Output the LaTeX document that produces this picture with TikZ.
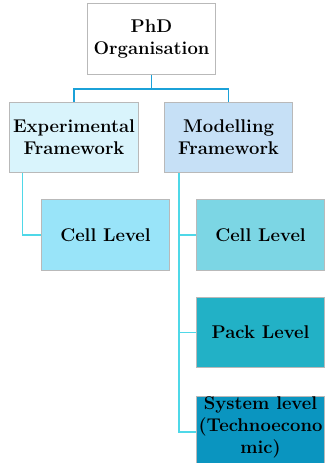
\documentclass[tikz,border=0pt]{standalone}
\usepackage{amsmath}
\usetikzlibrary{calc,positioning}

\definecolor{topline}{HTML}{1BA1D8}
\definecolor{subline}{HTML}{4FD8E8}
\definecolor{expfill}{HTML}{D9F4FC}
\definecolor{modfill}{HTML}{C6E0F6}
\definecolor{cellafill}{HTML}{99E4F9}
\definecolor{cellbfill}{HTML}{7CD6E4}
\definecolor{packfill}{HTML}{22B1C6}
\definecolor{sysfill}{HTML}{0A95C0}

\tikzset{
  levelbox/.style={draw=gray!55, line width=0.8pt, minimum width=129, minimum height=71,
    align=center, inner sep=1pt, font=\fontsize{18.5}{22}\selectfont\bfseries},
  topwire/.style={draw=topline, line width=1.6pt},
  subwire/.style={draw=subline, line width=1.6pt}
}

\begin{document}
\begin{tikzpicture}[x=1bp,y=-1bp]
            \useasboundingbox (0,0) rectangle (325,463);
            \clip (0,0) rectangle (325,463);
            \node[levelbox, fill=white] (phd) at (151.5,39) {PhD\\Organisation};
            \node[levelbox, fill=expfill] (exp) at (74,137.5) {Experimental\\Framework};
            \node[levelbox, fill=modfill] (mod) at (228.5,137.5) {Modelling\\Framework};
            \node[levelbox, fill=cellafill] (cella) at (105.5,235) {Cell Level};
            \node[levelbox, fill=cellbfill] (cellb) at (260.5,235) {Cell Level};
            \node[levelbox, fill=packfill] (pack) at (260.5,332.5) {Pack Level};
            \node[levelbox, fill=sysfill, anchor=north] (sys) at (260.5,396) {\\[-18pt]System level\\(Technoecono\\mic)};
            % tree connectors
            \coordinate (fork) at ($(phd.south)+(0,14)$);
            \draw[topwire] (phd.south)--(fork);
            \draw[topwire] (exp.north) |- (fork) -| (mod.north);
            \draw[subwire] ($(exp.south west)+(13,0)$) |- (cella.west);
            \draw[subwire] ($(mod.south west)+(15,0)$) |- (sys.west);
            \draw[subwire] ($(mod.south west)+(15,0)$) |- (cellb.west);
            \draw[subwire] ($(mod.south west)+(15,0)$) |- (pack.west);
        \end{tikzpicture}
\end{document}
